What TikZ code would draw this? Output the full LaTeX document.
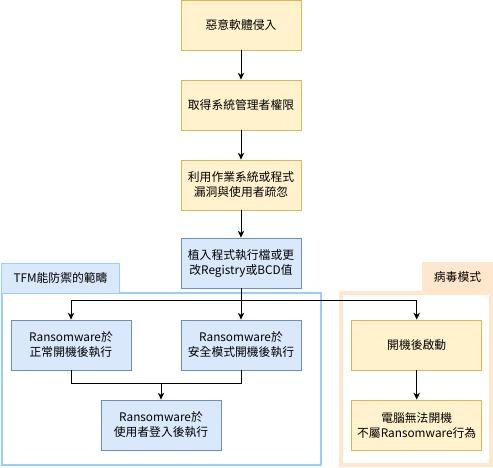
\documentclass[tikz,border=0pt]{standalone}
\usepackage{fontspec}
\setmainfont{Noto Sans CJK TC}
\usetikzlibrary{arrows.meta}
\definecolor{yfill}{HTML}{FFF2CC}
\definecolor{ystroke}{HTML}{D6B656}
\definecolor{bfill}{HTML}{DAE8FC}
\definecolor{bstroke}{HTML}{6C8EBF}
\definecolor{grpblue}{HTML}{99CCFF}
\definecolor{grporange}{HTML}{FFE6CC}
\tikzset{
  base/.style={rectangle, minimum width=120pt, minimum height=50pt, align=center,
    inner sep=2pt, font=\fontsize{11.8pt}{15pt}\selectfont, line width=0.8pt},
  ybox/.style={base, fill=yfill, draw=ystroke},
  bbox/.style={base, fill=bfill, draw=bstroke},
  arr/.style={line width=0.8pt, -{Stealth[length=7pt,width=6.5pt]}},
  ln/.style={line width=0.8pt},
  lbl/.style={rectangle, align=center, font=\fontsize{11.8pt}{15pt}\selectfont, inner sep=0pt}
}
\begin{document}
\begin{tikzpicture}[x=1pt,y=-1pt]
\useasboundingbox (0,0) rectangle (493,468);
% group containers
\draw[grpblue, line width=2.2pt] (2,293) rectangle (321,465);
\node[lbl, fill=bfill, draw=grpblue, line width=1pt, minimum width=118pt, minimum height=30pt] (tfm) at (60.5,278) {TFM能防禦的範疇};
\draw[grporange, line width=3.5pt] (341,293) rectangle (491,465);
\node[lbl, fill=grporange, draw=grporange, minimum width=70pt, minimum height=30pt] (vir) at (457.5,277) {病毒模式};
% main flow
\node[ybox] (b1) at (241,25) {惡意軟體侵入};
\node[ybox] (b2) at (241,105) {取得系統管理者權限};
\node[ybox] (b3) at (241,185) {利用作業系統或程式\\漏洞與使用者疏忽};
\node[bbox] (b4) at (241,263) {植入程式執行檔或更\\改Registry或BCD值};
\node[bbox] (l) at (71,345) {Ransomware於\\正常開機後執行};
\node[bbox] (r) at (241,345) {Ransomware於\\安全模式開機後執行};
\node[bbox] (bt) at (161,425) {Ransomware於\\使用者登入後執行};
\node[ybox, minimum width=130pt] (o1) at (416.7,345) {開機後啟動};
\node[ybox, minimum width=130pt] (o2) at (416.7,425) {電腦無法開機\\不屬Ransomware行為};
% connectors
\draw[arr] (b1) -- (b2);
\draw[arr] (b2) -- (b3);
\draw[arr] (b3) -- (b4);
\coordinate (j) at (241,300);
\draw[ln] (b4.south) -- (j);
\draw[arr] (j) -| (l.north);
\draw[arr] (j) -- (r.north);
\draw[arr] (j) -| (o1.north);
\coordinate (m) at (161,383);
\draw[ln] (l.south) |- (m);
\draw[ln] (r.south) |- (m);
\draw[arr] (m) -- (bt.north);
\draw[arr] (o1) -- (o2);
\end{tikzpicture}
\end{document}
